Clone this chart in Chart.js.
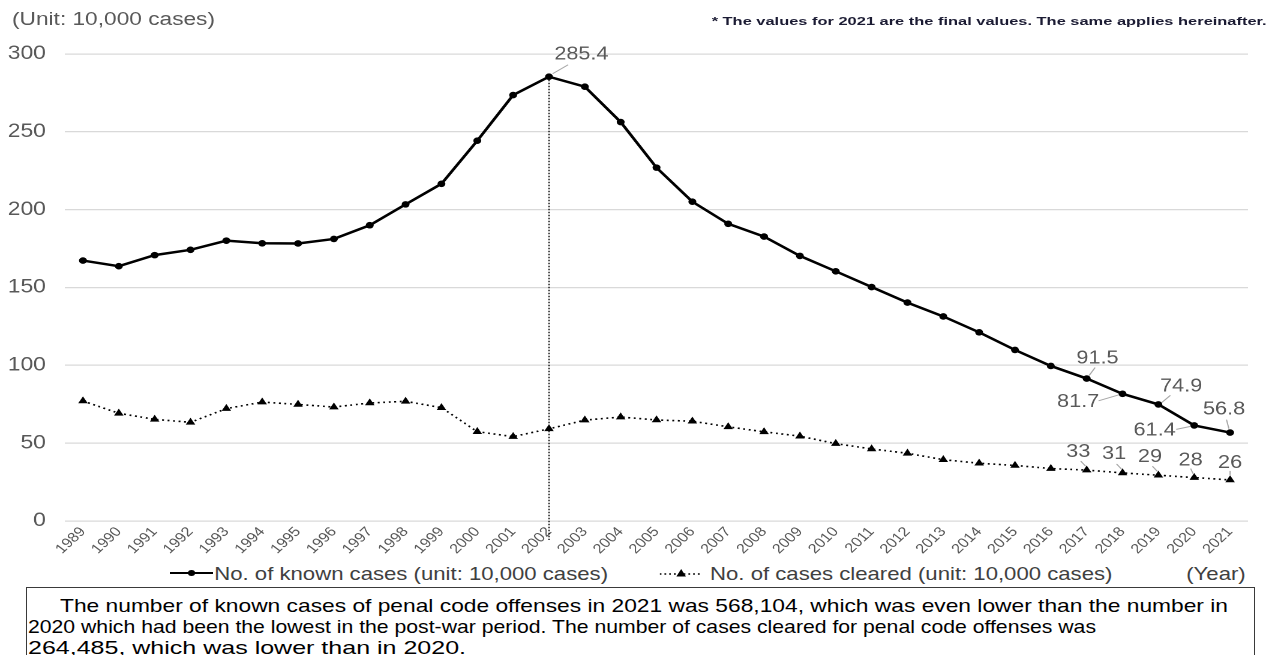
<!DOCTYPE html>
<html>
<head>
<meta charset="utf-8">
<script src="https://cdn.jsdelivr.net/npm/chart.js@4.4.1/dist/chart.umd.min.js"></script>
<style>
  html, body { margin: 0; padding: 0; background: #fff; }
  body { width: 1272px; height: 655px; overflow: hidden; position: relative; font-family: "Liberation Sans", Arial, sans-serif; }
  #chartwrap { position: absolute; left: 0; top: 0; width: 1060px; height: 560px; transform: scaleX(1.2); transform-origin: 0 0; }
  .t { position: absolute; white-space: nowrap; display: inline-block; }
  #unit { left: 12px; top: 9px; font-size: 18px; line-height: 20px; color: #595959; transform-origin: 0 0; }
  #note { right: 5px; top: 14px; font-size: 11.5px; line-height: 14px; font-weight: bold; color: #1b1b33; transform-origin: 100% 0; }
  .leg { top: 563px; font-size: 18.5px; line-height: 22px; color: #404040; }
  #leg1 { left: 170px; transform-origin: 0 0; }
  #leg2 { right: 160px; transform-origin: 100% 0; }
  #year { right: 26px; transform-origin: 100% 0; }
  .leg svg { vertical-align: middle; margin-right: 1px; position: relative; top: -2px; }
  #box { position: absolute; left: 26px; top: 587px; width: 1229px; height: 90px; border: 1.5px solid #3a3a3a; box-sizing: border-box; }
  .bl { position: absolute; font-size: 19px; line-height: 21px; color: #000; white-space: nowrap; transform-origin: 0 0; }
</style>
</head>
<body>
<div id="chartwrap"><canvas id="c" width="1060" height="560"></canvas></div>

<div class="t" id="unit">(Unit: 10,000 cases)</div>
<div class="t" id="note">* The values for 2021 are the final values. The same applies hereinafter.</div>

<div class="t leg" id="leg1"><svg width="36" height="10" viewBox="0 0 36 10"><line x1="0" y1="5" x2="36" y2="5" stroke="#000" stroke-width="2"/><circle cx="18" cy="5" r="3" fill="#000"/></svg>No. of known cases (unit: 10,000 cases)</div>
<div class="t leg" id="leg2"><svg width="36" height="10" viewBox="0 0 36 10"><line x1="0" y1="6" x2="36" y2="6" stroke="#000" stroke-width="1.5" stroke-dasharray="1.5 2.5"/><polygon points="18,1 22,8.5 14,8.5" fill="#000"/></svg> No. of cases cleared (unit: 10,000 cases)</div>
<div class="t leg" id="year">(Year)</div>

<div id="box"></div>
<div class="bl" id="l1" style="left:60px; top:595px;">The number of known cases of penal code offenses in 2021 was 568,104, which was even lower than the number in</div>
<div class="bl" id="l2" style="left:28px; top:616px;">2020 which had been the lowest in the post-war period. The number of cases cleared for penal code offenses was</div>
<div class="bl" id="l3" style="left:28px; top:637px;">264,485, which was lower than in 2020.</div>

<script>
// ---------------- DATA ----------------
const years = ['1989','1990','1991','1992','1993','1994','1995','1996','1997','1998','1999','2000','2001','2002','2003','2004','2005','2006','2007','2008','2009','2010','2011','2012','2013','2014','2015','2016','2017','2018','2019','2020','2021'];
const knownCases = [167.3,163.7,170.8,174.2,180.1,178.4,178.3,181.2,190.0,203.4,216.6,244.3,273.6,285.4,279.0,256.3,227.0,205.1,190.9,182.7,170.3,160.4,150.3,140.3,131.4,121.2,109.9,99.6,91.5,81.7,74.9,61.4,56.8];
const clearedCases = [77.1,69.2,65.3,63.4,72.2,76.4,74.9,73.2,75.8,76.9,72.8,57.4,54.2,59.2,64.8,66.8,64.9,64.1,60.5,57.3,54.5,49.7,46.3,43.5,39.4,37.1,35.7,33.7,32.7,30.9,29.4,27.9,26.4];
const yTicks = [0,50,100,150,200,250,300];
const seriesNames = ['No. of known cases (unit: 10,000 cases)','No. of cases cleared (unit: 10,000 cases)'];

// years whose values are written on the chart
const labelledKnown = ['2002','2017','2018','2019','2020','2021'];
const labelledCleared = ['2017','2018','2019','2020','2021'];

// label placement (style only): offsets from point, leader line endpoints relative to point
const knownLabelPos = {
  '2002': {dx: 27, dy: -22, l: [3,-3,16,-12]},
  '2017': {dx: 9,  dy: -20, l: [2,-3,7,-11]},
  '2018': {dx: -37, dy: 8,  l: [-20,7,-3,1]},
  '2019': {dx: 19, dy: -18, l: [3,-2,10,-9]},
  '2020': {dx: -33, dy: 5,  l: [-15,4,-3,1]},
  '2021': {dx: -5, dy: -23, l: [-3,-13,-1,-4]}
};
const clearedLabelPos = {
  '2017': {dx: -7, dy: -18, l: [-5,-9,-1,-4]},
  '2018': {dx: -7, dy: -19, l: [-5,-9,-1,-4]},
  '2019': {dx: -7, dy: -18, l: [-5,-9,-1,-4]},
  '2020': {dx: -3, dy: -17, l: [-3,-9,-1,-4]},
  '2021': {dx: 0,  dy: -17, l: [0,-9,0,-5]}
};

Chart.defaults.font.family = '"Liberation Sans", Arial, sans-serif';

const peakLine = {
  id: 'peakLine',
  afterDatasetsDraw(chart) {
    const ctx = chart.ctx;
    const idx = knownCases.indexOf(Math.max(...knownCases));
    const pt = chart.getDatasetMeta(0).data[idx];
    const x = Math.round(pt.x) + 0.5;
    ctx.save();
    ctx.strokeStyle = '#000';
    ctx.lineWidth = 1;
    ctx.setLineDash([1.5, 1.5]);
    ctx.beginPath();
    ctx.moveTo(x, pt.y);
    ctx.lineTo(x, chart.chartArea.bottom + 19);
    ctx.stroke();
    ctx.restore();
  }
};

const dataLabels = {
  id: 'dataLabels',
  afterDatasetsDraw(chart) {
    const ctx = chart.ctx;
    ctx.save();
    ctx.font = '18px "Liberation Sans", Arial, sans-serif';
    ctx.textAlign = 'center';
    ctx.textBaseline = 'middle';
    const draw = (dsIndex, yr, text, pos) => {
      const i = years.indexOf(yr);
      const pt = chart.getDatasetMeta(dsIndex).data[i];
      const l = pos.l;
      ctx.strokeStyle = '#a6a6a6';
      ctx.lineWidth = 1;
      ctx.beginPath();
      ctx.moveTo(pt.x + l[0], pt.y + l[1]);
      ctx.lineTo(pt.x + l[2], pt.y + l[3]);
      ctx.stroke();
      ctx.fillStyle = '#595959';
      ctx.fillText(text, pt.x + pos.dx, pt.y + pos.dy);
    };
    labelledKnown.forEach(yr => draw(0, yr, knownCases[years.indexOf(yr)].toFixed(1), knownLabelPos[yr]));
    labelledCleared.forEach(yr => draw(1, yr, String(Math.round(clearedCases[years.indexOf(yr)])), clearedLabelPos[yr]));
    ctx.restore();
  }
};

new Chart(document.getElementById('c'), {
  type: 'line',
  data: {
    labels: years,
    datasets: [
      {
        label: seriesNames[0],
        data: knownCases,
        borderColor: '#000',
        backgroundColor: '#000',
        borderWidth: 2.5,
        pointStyle: 'circle',
        pointRadius: 3.3,
        pointBorderWidth: 0,
        pointBackgroundColor: '#000',
        tension: 0
      },
      {
        label: seriesNames[1],
        data: clearedCases,
        borderColor: '#000',
        backgroundColor: '#000',
        borderWidth: 1.6,
        borderDash: [1.6, 3],
        pointStyle: 'triangle',
        pointRadius: 4.6,
        pointBorderWidth: 0,
        pointBackgroundColor: '#000',
        tension: 0
      }
    ]
  },
  options: {
    responsive: false,
    animation: false,
    devicePixelRatio: 2,
    layout: { padding: { top: 54, right: 20, left: 0, bottom: 0 } },
    plugins: { legend: { display: false }, tooltip: { enabled: false } },
    scales: {
      x: {
        offset: true,
        grid: { display: false, drawTicks: false },
        border: { display: false },
        ticks: {
          autoSkip: false, minRotation: 48, maxRotation: 48,
          color: '#595959', font: { size: 13.5 }, padding: 3
        },
        afterFit(scale) { scale.height = 39; }
      },
      y: {
        min: 0, max: 300,
        afterBuildTicks(scale) { scale.ticks = yTicks.map(v => ({ value: v })); },
        grid: { color: '#d9d9d9', lineWidth: 1.2, drawTicks: false, tickLength: 0 },
        border: { display: false },
        ticks: { color: '#595959', font: { size: 19 }, padding: 16 },
        afterFit(scale) { scale.width = 54.2; }
      }
    }
  },
  plugins: [peakLine, dataLabels]
});

// ---------- horizontal fitting of HTML texts to the reference widths ----------
function fitX(el, target) {
  el.style.transform = 'none';
  const w = el.getBoundingClientRect().width;
  el.style.transform = 'scaleX(' + (target / w) + ')';
  return target / w;
}
fitX(document.getElementById('unit'), 203);
fitX(document.getElementById('note'), 555);
const legScale = fitX(document.getElementById('leg1'), 438);
document.getElementById('leg2').style.transform = 'scaleX(' + legScale + ')';
document.getElementById('year').style.transform = 'scaleX(' + legScale + ')';
fitX(document.getElementById('l1'), 1168);
fitX(document.getElementById('l2'), 1068);
fitX(document.getElementById('l3'), 438);
</script>
</body>
</html>
